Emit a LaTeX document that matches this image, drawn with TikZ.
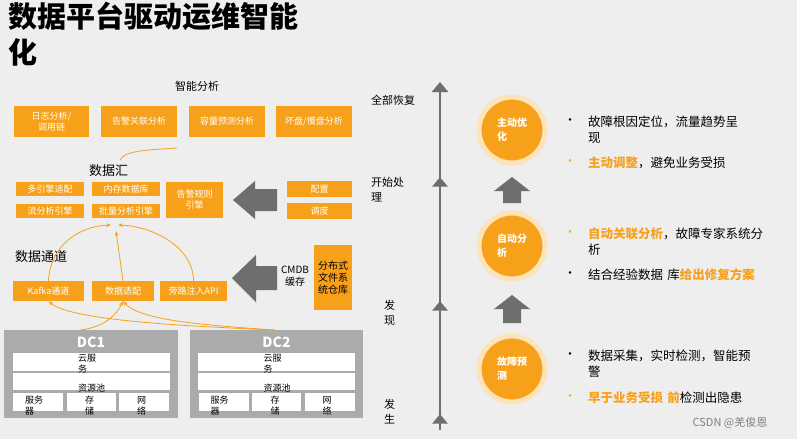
\documentclass[tikz,border=0pt]{standalone}
\usepackage{fontspec}
\setmainfont{Noto Sans CJK SC}
\usetikzlibrary{arrows.meta,shapes.geometric}
\definecolor{org}{HTML}{F7A11A}
\definecolor{bg}{HTML}{EEEEEE}
\definecolor{gr}{HTML}{6E6E6E}
\definecolor{dcg}{HTML}{ABABAB}
\begin{document}
\begin{tikzpicture}[x=1pt,y=-1pt,
 ob/.style={fill=org,draw=none,text=white,align=center,inner sep=0pt,font=\fontsize{9}{11}\selectfont},
 wb/.style={fill=white,draw=none,inner sep=0pt},
 lab/.style={anchor=west,font=\fontsize{13}{15}\selectfont,inner sep=0pt},
 ax/.style={font=\fontsize{11}{15}\selectfont,align=left,inner sep=0pt},
 cur/.style={draw=org,thick,-{Stealth[length=5pt]}},
 circ/.style={circle,fill=org,minimum size=66pt,draw=org!30,line width=5pt,text=white,font=\bfseries\fontsize{10}{14}\selectfont,align=left},
 txt/.style={anchor=west,font=\fontsize{12.5}{16}\selectfont,align=left,inner sep=0pt,text width=200pt},
 bul/.style={font=\fontsize{12}{12}\selectfont,inner sep=0pt},
 sm/.style={font=\fontsize{9}{11}\selectfont,align=left,inner sep=0pt,anchor=north west}]
\fill[bg] (0,0) rectangle (797,439);
\useasboundingbox (0,0) rectangle (797,439);
\node[anchor=north west,inner sep=0pt,font=\bfseries\fontsize{29}{36}\selectfont,align=left] (title) at (8,2) {数据平台驱动运维智能\\化};
% 智能分析
\node[font=\fontsize{11}{13}\selectfont] (zn) at (197,86) {智能分析};
\node[ob,minimum width=75pt,minimum height=31pt] (a1) at (51.5,121.5) {日志分析/\\调用链};
\node[ob,minimum width=76pt,minimum height=31pt] (a2) at (139,121.5) {告警关联分析};
\node[ob,minimum width=76pt,minimum height=31pt] (a3) at (227,121.5) {容量预测分析};
\node[ob,minimum width=76pt,minimum height=31pt] (a4) at (314,121.5) {坏盘/慢盘分析};
\draw[org,thick] (120,160) .. controls (125,150) and (150,150) .. (177,148);
% 数据汇
\node[lab] (sjh) at (89,171) {数据汇};
\node[ob,minimum width=68pt,minimum height=14pt] (b1) at (50,189) {多引擎适配};
\node[ob,minimum width=68pt,minimum height=14pt] (b2) at (126,189) {内存数据库};
\node[ob,minimum width=68pt,minimum height=14pt] (b3) at (50,211) {流分析引擎};
\node[ob,minimum width=68pt,minimum height=14pt] (b4) at (126,211) {批量分析引擎};
\node[ob,minimum width=57pt,minimum height=36pt] (b5) at (194.5,200) {告警规则\\引擎};
\node[ob,minimum width=65pt,minimum height=16pt] (c1) at (319.5,189) {配置};
\node[ob,minimum width=65pt,minimum height=16pt] (c2) at (319.5,211) {调度};
\fill[gr] (233,200) -- (255,181) -- (255,189) -- (277,189) -- (277,211) -- (255,211) -- (255,219) -- cycle;
% 数据通道
\node[lab] (sjtd) at (15,257) {数据通道};
\node[ob,minimum width=71pt,minimum height=20pt] (d1) at (48.5,291) {Kafka通道};
\node[ob,minimum width=62pt,minimum height=20pt] (d2) at (123,291) {数据适配};
\node[ob,minimum width=67pt,minimum height=20pt] (d3) at (193.5,291) {旁路注入API};
\fill[gr] (232,278) -- (256,255) -- (256,266) -- (277,266) -- (277,290) -- (256,290) -- (256,302) -- cycle;
\node[font=\fontsize{10}{12}\selectfont,align=center,inner sep=0pt] (cmdb) at (295,276) {CMDB\\缓存};
\node[ob,minimum width=38pt,minimum height=65pt,text=black,font=\fontsize{10}{12}\selectfont] (fs) at (333,277.5) {分布式\\文件系\\统仓库};
\coordinate (m1) at (111,225);
\coordinate (m2) at (118,225);
\draw[cur] (d1.north) .. controls (50,245) and (80,226) .. (m1);
\draw[cur] (d3.north) .. controls (193,245) and (150,226) .. (m2);
\draw[cur] (d2.north) -- (116,231);
% DCs
\node[fill=dcg,minimum width=174pt,minimum height=88pt,inner sep=0pt] (dc1) at (91,374) {};
\node[fill=dcg,minimum width=173pt,minimum height=88pt,inner sep=0pt] (dc2) at (276.5,374) {};
\coordinate (dc2t) at (275,330);
\coordinate (dc1t) at (80,330);
\draw[cur] (dc2t) .. controls (180,326) and (70,320) .. (d1.south);
\draw[cur] (dc2t) .. controls (200,325) and (140,320) .. (d2.south);
\draw[cur] (dc1t) .. controls (100,328) and (115,318) .. (d2.south);
\foreach \n/\x in {1/91,2/276.5}{
 \node[text=white,font=\bfseries\fontsize{14}{15}\selectfont] (t\n) at (\x,342) {DC\n};
 \node[wb,minimum width=157pt,minimum height=18pt] (y\n) at (\x,362) {};
 \node[wb,minimum width=157pt,minimum height=17pt] (z\n) at (\x,381.5) {};
 \node[wb,minimum width=50pt,minimum height=18pt] (s\n) at (\x-53,402) {};
 \node[wb,minimum width=49pt,minimum height=18pt] (c\n) at (\x,402) {};
 \node[wb,minimum width=50pt,minimum height=18pt] (n\n) at (\x+53,402) {};
 \node[sm] (yt\n) at (\x-13,354) {云服\\务};
 \node[sm] (zt\n) at (\x-13,384) {资源池};
 \node[sm] (st\n) at (\x-66,396) {服务\\器};
 \node[sm] (ct\n) at (\x-6,396) {存\\储};
 \node[sm] (nt\n) at (\x+46,396) {网\\络};
}
% axis
\coordinate (ax0) at (440,430);
\coordinate (ax1) at (440,82);
\draw[gr,line width=2.5pt,-{Triangle[length=10pt,width=16pt]}] (ax0) -- (ax1);
\foreach \y/\nm in {183/p1,307/p2,420/p3}{
 \node[fill=gr,isosceles triangle,isosceles triangle apex angle=80,shape border rotate=90,inner sep=0pt,minimum height=9pt,minimum width=16pt] (\nm) at (440,\y) {};
}
\node[ax,anchor=north west] (l1) at (371,95) {全部恢复};
\node[ax,anchor=north west] (l2) at (371,177) {开始处\\理};
\node[ax,anchor=north west] (l3) at (384,300) {发\\现};
\node[ax,anchor=north west] (l4) at (384,399) {发\\生};
% right
\node[circ] (o1) at (512,130) {主动优\\化};
\node[circ] (o2) at (512,246) {自动分\\析};
\node[circ] (o3) at (512,369) {故障预\\测};
\fill[gr] (512,177) -- (530,191) -- (521,191) -- (521,203) -- (503,203) -- (503,191) -- (494,191) -- cycle;
\fill[gr] (512,295) -- (530,309) -- (521,309) -- (521,323) -- (503,323) -- (503,309) -- (494,309) -- cycle;
\node[bul] (k1) at (570,122) {•};
\node[txt] (x1) at (588,130) {故障根因定位，流量趋势呈\\现};
\node[bul,text=org] (k2) at (570,163) {•};
\node[txt] (x2) at (588,163) {\textcolor{org}{\bfseries 主动调整}，避免业务受损};
\node[bul,text=org] (k3) at (570,234) {•};
\node[txt] (x3) at (588,242) {\textcolor{org}{\bfseries 自动关联分析}，故障专家系统分\\析};
\node[bul] (k4) at (570,275) {•};
\node[txt] (x4) at (588,275) {结合经验数据 库\textcolor{org}{\bfseries 给出修复方案}};
\node[bul] (k5) at (570,356) {•};
\node[txt] (x5) at (588,364) {数据采集，实时检测，智能预\\警};
\node[bul,text=org] (k6) at (570,398) {•};
\node[txt] (x6) at (588,398) {\textcolor{org}{\bfseries 早于业务受损 前}检测出隐患};
\node[text=gray,font=\fontsize{11}{12}\selectfont] (wm) at (730,423) {CSDN @羌俊恩};
\end{tikzpicture}
\end{document}
